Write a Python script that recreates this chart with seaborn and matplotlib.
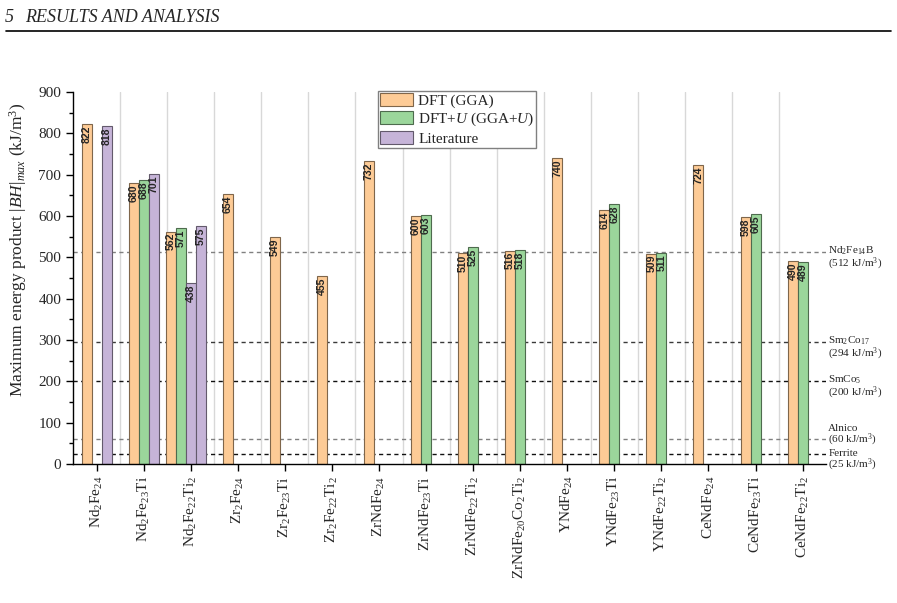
import matplotlib
matplotlib.use("Agg")
import matplotlib.pyplot as plt
from matplotlib.lines import Line2D
from matplotlib.patches import Patch
import matplotlib.colors as mcolors
import seaborn as sns
import numpy as np
import pandas as pd

# --- data ---
compounds = ["Nd2Fe24", "Nd2Fe23Ti", "Nd2Fe22Ti2", "Zr2Fe24", "Zr2Fe23Ti", "Zr2Fe22Ti2",
             "ZrNdFe24", "ZrNdFe23Ti", "ZrNdFe22Ti2", "ZrNdFe20Co2Ti2", "YNdFe24",
             "YNdFe23Ti", "YNdFe22Ti2", "CeNdFe24", "CeNdFe23Ti", "CeNdFe22Ti2"]
tick_labels = [r"Nd$_2$Fe$_{24}$", r"Nd$_2$Fe$_{23}$Ti", r"Nd$_2$Fe$_{22}$Ti$_2$",
               r"Zr$_2$Fe$_{24}$", r"Zr$_2$Fe$_{23}$Ti", r"Zr$_2$Fe$_{22}$Ti$_2$",
               r"ZrNdFe$_{24}$", r"ZrNdFe$_{23}$Ti", r"ZrNdFe$_{22}$Ti$_2$",
               r"ZrNdFe$_{20}$Co$_2$Ti$_2$", r"YNdFe$_{24}$", r"YNdFe$_{23}$Ti",
               r"YNdFe$_{22}$Ti$_2$", r"CeNdFe$_{24}$", r"CeNdFe$_{23}$Ti",
               r"CeNdFe$_{22}$Ti$_2$"]
nan = np.nan
dft = [822, 680, 562, 654, 549, 455, 732, 600, 510, 516, 740, 614, 509, 724, 598, 490]
dft_u = [nan, 688, 571, nan, nan, nan, nan, 603, 525, 518, nan, 628, 511, nan, 605, 489]
literature = [818, 701, 438, nan, nan, nan, nan, nan, nan, nan, nan, nan, nan, nan, nan, nan]
literature_2 = [nan, nan, 575, nan, nan, nan, nan, nan, nan, nan, nan, nan, nan, nan, nan, nan]

ref_values = [512, 294, 200, 60, 25]
ref_labels = [r"Nd$_2$Fe$_{14}$B" "\n" r"(512 kJ/m$^3$)",
              r"Sm$_2$Co$_{17}$" "\n" r"(294 kJ/m$^3$)",
              r"SmCo$_5$" "\n" r"(200 kJ/m$^3$)",
              "Alnico\n" r"(60 kJ/m$^3$)",
              "Ferrite\n" r"(25 kJ/m$^3$)"]
ref_colors = ["#808080", "#3a3a3a", "#111111", "#808080", "#111111"]
ref_dy = [-4, -4, -4, 2.5, -5.5]

palette = {"DFT": "#FDCB96", "DFT+U": "#9BD69B", "Literature": "#C6B4D8",
           "Literature 2": "#C6B4D8", "_pad": "white"}

# --- long table ---
df = pd.DataFrame({"compound": compounds, "DFT": dft, "DFT+U": dft_u,
                   "Literature": literature, "Literature 2": literature_2})
long = df.melt(id_vars="compound", var_name="series", value_name="value").dropna()
four_bar = df.loc[df["Literature 2"].notna(), "compound"].tolist()
main = long[~long["compound"].isin(four_bar)]
extra = long[long["compound"].isin(four_bar)]

sns.set_style("ticks")
plt.rcParams["font.family"] = ["Liberation Serif", "DejaVu Serif"]
plt.rcParams["mathtext.fontset"] = "custom"
plt.rcParams["mathtext.rm"] = "Liberation Serif"
plt.rcParams["mathtext.it"] = "Liberation Serif:italic"
plt.rcParams["mathtext.bf"] = "Liberation Serif:bold"
plt.rcParams["mathtext.default"] = "regular"

fig = plt.figure(figsize=(8.97, 6.03), dpi=100)
ax = fig.add_axes([0.0814, 0.2305, 0.8396, 0.617])

slot = 0.2125
sns.barplot(data=main, x="compound", y="value", hue="series", order=compounds,
            hue_order=["DFT", "DFT+U", "Literature"], palette=palette,
            width=3 * slot, gap=0, errorbar=None, saturation=1, legend=False,
            linewidth=0.8, ax=ax)
sns.barplot(data=extra, x="compound", y="value", hue="series", order=compounds,
            hue_order=["DFT", "DFT+U", "Literature", "Literature 2", "_pad"],
            palette=palette, width=5 * slot, gap=0, errorbar=None, saturation=1,
            legend=False, linewidth=0.8, ax=ax)

# darker edges + value labels inside the bar tops
for cont in ax.containers:
    for p in cont.patches:
        h = p.get_height()
        if np.isnan(h) or h == 0:
            continue
        fc = np.array(mcolors.to_rgb(p.get_facecolor()))
        p.set_edgecolor(fc * 0.5)
        p.set_zorder(2)
        ax.annotate(f"{h:.0f}", (p.get_x() + p.get_width() / 2, h),
                    xytext=(0, -1), textcoords="offset points", rotation=90,
                    ha="center", va="top", fontsize=7.6, fontweight="bold",
                    family="Liberation Sans", zorder=3)

# reference magnets
for v, lab, c, dy in zip(ref_values, ref_labels, ref_colors, ref_dy):
    ax.axhline(v, color=c, ls=(0, (3, 2.5)), lw=1, zorder=1)
    ax.annotate(lab, xy=(1, v), xycoords=ax.get_yaxis_transform(),
                xytext=(1.5, dy), textcoords="offset points", ha="left",
                va="center", fontsize=8, linespacing=0.9, annotation_clip=False)

ax.set_xlim(-0.5, len(compounds) - 0.5)
ax.set_ylim(0, 900)
ax.set_yticks(np.arange(0, 901, 100))
ax.set_yticks(np.arange(50, 900, 100), minor=True)
ax.set_xticks(range(len(compounds)))
ax.set_xticklabels(tick_labels, rotation=90, fontsize=11)
ax.set_xticks(np.arange(0.5, len(compounds) - 1, 1), minor=True)
ax.grid(axis="x", which="minor", color="#d8d8d8", lw=1)
ax.set_axisbelow(True)
ax.tick_params(axis="x", which="minor", length=0)
ax.tick_params(axis="both", which="major", length=5, width=1, color="black",
               labelsize=11, direction="out")
ax.tick_params(axis="y", which="minor", length=3, width=1, color="black")
for s in ["top", "right"]:
    ax.spines[s].set_visible(False)
for s in ["left", "bottom"]:
    ax.spines[s].set_color("black")
    ax.spines[s].set_linewidth(1)

ax.set_xlabel("")
ax.set_ylabel(r"Maximum energy product $|\mathit{BH}|_{\mathit{max}}$ (kJ/m$^3$)",
              fontsize=12.5)
ax.yaxis.set_label_coords(-0.058, 0.575)

handles = [Patch(facecolor=palette[k], edgecolor=np.array(mcolors.to_rgb(palette[k])) * 0.5,
                 lw=0.8) for k in ["DFT", "DFT+U", "Literature"]]
ax.legend(handles, ["DFT (GGA)", r"DFT+$\mathit{U}$ (GGA+$\mathit{U}$)", "Literature"],
          loc="upper left", bbox_to_anchor=(0.405, 1.003), borderaxespad=0,
          fontsize=11, fancybox=False, framealpha=1, edgecolor="#808080",
          handlelength=2.2, handleheight=0.95, handletextpad=0.3,
          labelspacing=0.2, borderpad=0.12)

# page header
fig.text(5 / 897, 1 - 22 / 603, "5", fontsize=13, style="italic", va="baseline")
fig.text(25 / 897, 1 - 22 / 603, "RESULTS AND ANALYSIS", fontsize=13,
         style="italic", va="baseline")
fig.add_artist(Line2D([6 / 897, 891 / 897], [1 - 31 / 603] * 2, color="black", lw=1.2))

fig.savefig("out.png", dpi=100)
